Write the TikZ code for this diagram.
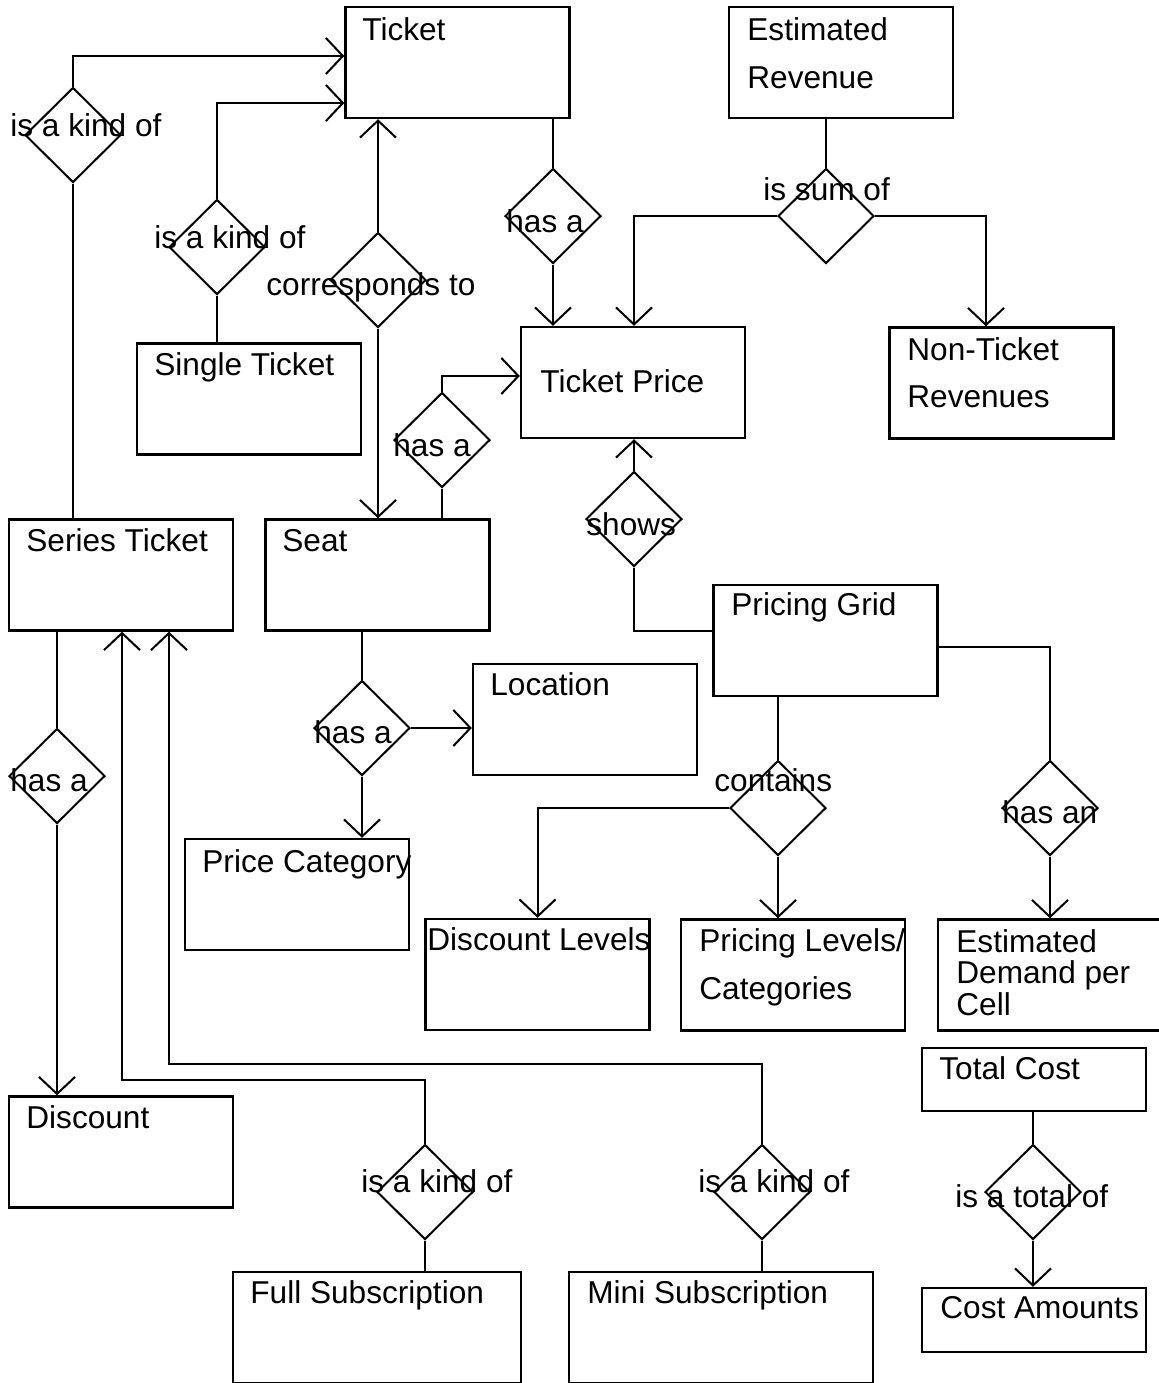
\documentclass[tikz,border=0pt]{standalone}
\usepackage{fontspec}
\setmainfont{Liberation Sans}
\usepackage{tikz}
\usetikzlibrary{positioning,shapes.geometric,arrows.meta}

\begin{document}
\begin{tikzpicture}[x=0.5pt, y=-0.5pt,
  font=\fontsize{15.8}{19}\selectfont,
  entity/.style={draw, line width=1.2pt, rectangle, inner sep=0pt, minimum width=112pt, minimum height=55.5pt},
  relation/.style={draw, line width=1pt, diamond, inner sep=0pt, minimum width=48pt, minimum height=47.5pt},
  word/.style={anchor=base west, inner sep=0pt},
  link/.style={line width=1pt},
  arr/.style={link, -{Straight Barb[length=8.5pt, width=18pt]}}]
\useasboundingbox (0,0) rectangle (1159,1383);

% entities
\node[entity] (ticket) at (457.5,62.5) {};
\node[word] (ticket-t) at (362,40) {Ticket};
\node[entity] (estrev) at (841,62.5) {};
\node[word, align=left, font=\fontsize{15.8}{24}\selectfont] (estrev-t) at (747,88) {Estimated\\Revenue};
\node[entity] (tprice) at (633,382.5) {};
\node[word] (tprice-t) at (540,392) {Ticket Price};
\node[entity] (nonticket) at (1001.5,383) {};
\node[word, align=left, font=\fontsize{15.8}{23.5}\selectfont] (nonticket-t) at (907,407) {Non-Ticket\\Revenues};
\node[entity] (single) at (249,399) {};
\node[word] (single-t) at (154,375) {Single Ticket};
\node[entity] (series) at (121,575) {};
\node[word] (series-t) at (26,551) {Series Ticket};
\node[entity] (seat) at (377.5,575) {};
\node[word] (seat-t) at (282,551) {Seat};
\node[entity] (grid) at (825.5,640.5) {};
\node[word] (grid-t) at (731,615) {Pricing Grid};
\node[entity] (location) at (585,719.5) {};
\node[word] (location-t) at (490,695) {Location};
\node[entity] (pricecat) at (297,894.5) {};
\node[word] (pricecat-t) at (202,872) {Price Category};
\node[entity] (disclev) at (537.5,974.5) {};
\node[word] (disclev-t) at (427,950) {Discount Levels};
\node[entity] (pricelev) at (793,975) {};
\node[word, align=left, font=\fontsize{15.8}{24}\selectfont] (pricelev-t) at (699,999) {Pricing Levels/\\Categories};
\node[entity] (demand) at (1050,975) {};
\node[word, align=left, font=\fontsize{15.8}{15.75}\selectfont] (demand-t) at (956,1015) {Estimated\\Demand per\\Cell};
\node[entity, minimum height=31.5pt] (totalcost) at (1034,1079.5) {};
\node[word] (totalcost-t) at (939,1079) {Total Cost};
\node[entity, minimum height=32pt] (costamt) at (1034,1320) {};
\node[word] (costamt-t) at (940,1318) {Cost Amounts};
\node[entity] (discount) at (121,1152) {};
\node[word] (discount-t) at (26,1128) {Discount};
\node[entity, minimum width=144pt] (fullsub) at (377,1327.5) {};
\node[word] (fullsub-t) at (250,1303) {Full Subscription};
\node[entity, minimum width=152pt] (minisub) at (721,1327.5) {};
\node[word] (minisub-t) at (587,1303) {Mini Subscription};

% relations
\node[relation] (kind1) at (73,135) {};
\node[word] (kind1-t) at (10,136) {is a kind of};
\node[relation] (kind2) at (217,247) {};
\node[word] (kind2-t) at (154,248) {is a kind of};
\node[relation] (corr) at (378,280) {};
\node[word] (corr-t) at (266,295) {corresponds to};
\node[relation] (hasa1) at (553,216) {};
\node[word] (hasa1-t) at (506,232) {has a};
\node[relation] (sumof) at (826,216) {};
\node[word] (sumof-t) at (763,200) {is sum of};
\node[relation] (hasa2) at (442,440) {};
\node[word] (hasa2-t) at (393,456) {has a};
\node[relation] (shows) at (634,519) {};
\node[word] (shows-t) at (586,535) {shows};
\node[relation] (hasa3) at (362,728) {};
\node[word] (hasa3-t) at (314,743) {has a};
\node[relation] (hasa4) at (57,776) {};
\node[word] (hasa4-t) at (10,791) {has a};
\node[relation] (contains) at (778,808) {};
\node[word] (contains-t) at (714,791) {contains};
\node[relation] (hasan) at (1050,808) {};
\node[word] (hasan-t) at (1002,823) {has an};
\node[relation] (kind3) at (425,1192) {};
\node[word] (kind3-t) at (361,1192) {is a kind of};
\node[relation] (kind4) at (762,1192) {};
\node[word] (kind4-t) at (698,1192) {is a kind of};
\node[relation] (totalof) at (1033,1192) {};
\node[word] (totalof-t) at (955,1207) {is a total of};

\coordinate (full-bend) at (122,1080);
\coordinate (mini-bend) at (169,1064);

% connectors
\draw[arr] (kind1.north) |- ([yshift=3.25pt]ticket.west);
\draw[link] (kind1.south) -- (kind1.south |- series.north);
\draw[arr] (kind2.north) |- ([yshift=-20.25pt]ticket.west);
\draw[link] (kind2.south) -- (kind2.south |- single.north);
\draw[arr] (corr.north) -- (corr.north |- ticket.south);
\draw[arr] (corr.south) -- (corr.south |- seat.north);
\draw[link] (hasa1.north |- ticket.south) -- (hasa1.north);
\draw[arr] (hasa1.south) -- (hasa1.south |- tprice.north);
\draw[link] (sumof.north |- estrev.south) -- (sumof.north);
\draw[arr] (sumof.west) -| ([xshift=0.5pt]tprice.north);
\draw[arr] (sumof.east) -| ([xshift=-7.75pt]nonticket.north);
\draw[link] (hasa2.south) -- (hasa2.south |- seat.north);
\draw[arr] (hasa2.north) |- ([yshift=3.25pt]tprice.west);
\draw[arr] (shows.north) -- (shows.north |- tprice.south);
\draw[link] (shows.south) |- ([yshift=4.75pt]grid.west);
\draw[link] (contains.north |- grid.south) -- (contains.north);
\draw[arr] (contains.west) -| (disclev.north);
\draw[arr] (contains.south) -- (contains.south |- pricelev.north);
\draw[link] ([yshift=-3.25pt]grid.east) -| (hasan.north);
\draw[arr] (hasan.south) -- (demand.north);
\draw[link] (hasa3.north |- seat.south) -- (hasa3.north);
\draw[arr] (hasa3.east) -- (hasa3.east -| location.west);
\draw[arr] (hasa3.south) -- (hasa3.south |- pricecat.north);
\draw[link] (hasa4.north |- series.south) -- (hasa4.north);
\draw[arr] (hasa4.south) -- (hasa4.south |- discount.north);
\draw[link] (kind3.south) -- (kind3.south |- fullsub.north);
\draw[arr] (kind3.north) |- (full-bend) -- (full-bend |- series.south);
\draw[link] (kind4.south) -- (kind4.south |- minisub.north);
\draw[arr] (kind4.north) |- (mini-bend) -- (mini-bend |- series.south);
\draw[link] (totalof.north |- totalcost.south) -- (totalof.north);
\draw[arr] (totalof.south) -- (totalof.south |- costamt.north);
\end{tikzpicture}
\end{document}
